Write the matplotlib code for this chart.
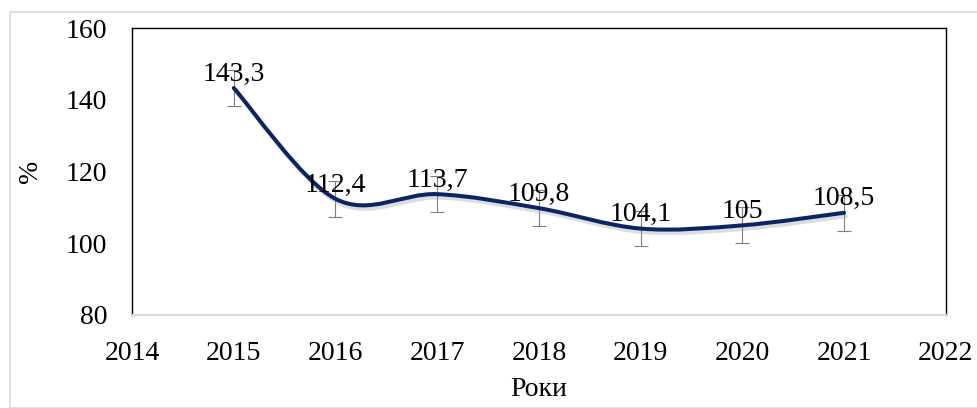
import numpy as np
import matplotlib
matplotlib.use('Agg')
from matplotlib import pyplot as plt
from matplotlib.path import Path
from matplotlib.patches import PathPatch, Rectangle
import matplotlib.patheffects as pe

years = [2015, 2016, 2017, 2018, 2019, 2020, 2021]
values = [143.3, 112.4, 113.7, 109.8, 104.1, 105.0, 108.5]
labels = ['143,3', '112,4', '113,7', '109,8', '104,1', '105', '108,5']
err = 5

plt.rcParams['font.family'] = ['Liberation Serif', 'DejaVu Serif']
FS = 20


def smooth_path(xs, ys, t=1 / 6):
    # Catmull-Rom style bezier, like a smoothed spreadsheet line
    pts = np.column_stack([xs, ys]).astype(float)
    verts = [pts[0]]
    codes = [Path.MOVETO]
    n = len(pts)
    for i in range(n - 1):
        p0 = pts[i - 1] if i > 0 else pts[i]
        p1 = pts[i]
        p2 = pts[i + 1]
        p3 = pts[i + 2] if i + 2 < n else pts[i + 1]
        c1 = p1 + (p2 - p0) * t
        c2 = p2 - (p3 - p1) * t
        verts += [c1, c2, p2]
        codes += [Path.CURVE4] * 3
    return Path(verts, codes)


fig = plt.figure(figsize=(9.78, 4.08), dpi=100)
fig.patches.append(Rectangle((10 / 978, 0), 1, 1 - 12 / 408, transform=fig.transFigure,
                             fill=False, edgecolor='#d9d9d9', linewidth=1.2))
ax = fig.add_axes([0.135, 0.228, 0.832, 0.703])

ax.errorbar(years, values, yerr=err, fmt='none', ecolor='#7f7f7f',
            elinewidth=0.8, capsize=5, capthick=0.8, zorder=2)

patch = PathPatch(smooth_path(years, values), fill=False, edgecolor='#0c2466',
                  linewidth=2.9, capstyle='round', zorder=3,
                  path_effects=[pe.SimpleLineShadow(offset=(1.5, -2.5), shadow_color='#a0a0a0',
                                                    alpha=0.35), pe.Normal()])
ax.add_patch(patch)

for x, y, s in zip(years, values, labels):
    ax.annotate(s, (x, y), xytext=(0, 1), textcoords='offset points',
                ha='center', va='bottom', fontsize=FS, zorder=4)

ax.set_xlim(2014, 2022)
ax.set_ylim(80, 160)
ax.set_xticks(range(2014, 2023))
ax.set_yticks(range(80, 161, 20))
ax.tick_params(length=0, labelsize=FS)
ax.tick_params(axis='y', pad=18)
ax.tick_params(axis='x', pad=19)
for side in ['left', 'top', 'right']:
    ax.spines[side].set_color('black')
    ax.spines[side].set_linewidth(1.0)
ax.spines['bottom'].set_color('#d9d9d9')
ax.spines['bottom'].set_linewidth(1.5)

ax.set_xlabel('Роки', fontsize=FS, labelpad=8)
ax.set_ylabel('%', fontsize=FS, labelpad=16)

fig.savefig('out.png', dpi=100)
